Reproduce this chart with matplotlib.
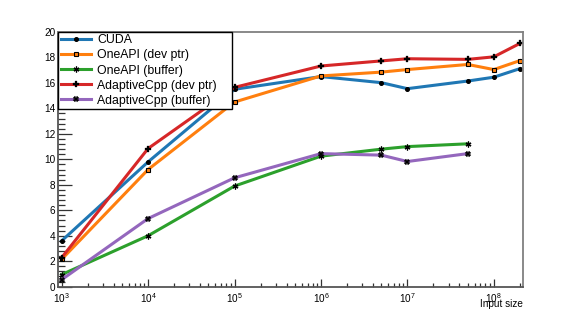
#!/usr/bin/env python3
"""Throughput vs input size for the CUDA / OneAPI / AdaptiveCpp backends."""

import matplotlib
matplotlib.use("Agg")
import matplotlib.pyplot as plt
from matplotlib.ticker import LogLocator, MultipleLocator

plt.rcParams["font.family"] = ["Liberation Sans", "DejaVu Sans"]
plt.rcParams["mathtext.fontset"] = "custom"
plt.rcParams["mathtext.rm"] = "Liberation Sans"
plt.rcParams["mathtext.it"] = "Liberation Sans"

# Input sizes (x)
sizes = [1e3, 1e4, 1e5, 1e6, 5e6, 1e7, 5e7, 1e8, 2e8]
sizes_buffer = sizes[:7]

# Series values
cuda = [3.6, 9.8, 15.5, 16.5, 16.02, 15.55, 16.15, 16.45, 17.12]
oneapi_ptr = [2.15, 9.2, 14.5, 16.55, 16.85, 17.05, 17.45, 17.05, 17.75]
oneapi_buf = [0.95, 4.0, 7.9, 10.25, 10.8, 11.0, 11.22]
acpp_ptr = [2.28, 10.85, 15.65, 17.33, 17.73, 17.9, 17.85, 18.05, 19.1]
acpp_buf = [0.55, 5.35, 8.55, 10.45, 10.33, 9.83, 10.45]

labels = [
    "CUDA",
    "OneAPI (dev ptr)",
    "OneAPI (buffer)",
    "AdaptiveCpp (dev ptr)",
    "AdaptiveCpp (buffer)",
]

fig = plt.figure(figsize=(5.81, 3.19), dpi=100)
ax = fig.add_axes([0.1003, 0.1013, 0.7994, 0.7984])

lw = 2.2
ax.plot(sizes, cuda, color="#1f77b4", lw=lw, marker="o", ms=2.6,
        mfc="black", mec="black", label=labels[0])
ax.plot(sizes, oneapi_ptr, color="#ff7f0e", lw=lw, marker="s", ms=3.3,
        mfc="#ff7f0e", mec="black", mew=0.8, label=labels[1])
ax.plot(sizes_buffer, oneapi_buf, color="#2ca02c", lw=lw, marker=(6, 2, 0), ms=4.2,
        mfc="black", mec="black", mew=0.9, label=labels[2])
ax.plot(sizes, acpp_ptr, color="#d62728", lw=lw, marker="P", ms=3.8,
        mfc="black", mec="black", mew=0.2, label=labels[3])
ax.plot(sizes_buffer, acpp_buf, color="#9467bd", lw=lw, marker="X", ms=3.8,
        mfc="black", mec="black", mew=0.2, label=labels[4])

ax.set_xscale("log")
ax.set_xlim(914, 2.16e8)
ax.set_ylim(0, 20)

ax.xaxis.set_major_locator(LogLocator(base=10, numticks=20))
ax.xaxis.set_minor_locator(LogLocator(base=10, subs=range(2, 10), numticks=50))
ax.yaxis.set_major_locator(MultipleLocator(2))
ax.yaxis.set_minor_locator(MultipleLocator(0.4))

ax.tick_params(axis="x", which="major", direction="in", length=5.6, width=0.9,
               labelsize=7.2, pad=3, top=False, color="#333333")
ax.tick_params(axis="x", which="minor", direction="in", length=2.8, width=0.9,
               top=False, color="#333333")
ax.tick_params(axis="y", which="major", direction="in", length=10, width=0.9,
               labelsize=7.2, pad=2, right=False, color="#333333")
ax.tick_params(axis="y", which="minor", direction="in", length=5, width=0.9,
               right=False, color="#333333")

for side in ("left", "bottom"):
    ax.spines[side].set_color("#555555")
    ax.spines[side].set_linewidth(1.3)
for side in ("top", "right"):
    ax.spines[side].set_color("#808080")
    ax.spines[side].set_linewidth(1.3)

ax.text(1.0, -0.068, "Input size", transform=ax.transAxes, ha="right",
        va="center", fontsize=7.2)

leg = ax.legend(
    loc="upper left",
    bbox_to_anchor=(0.0, 0.0, 0.374, 1.0),
    mode="expand",
    borderaxespad=0,
    fontsize=8.8,
    handlelength=2.5,
    handletextpad=0.5,
    labelspacing=0.25,
    borderpad=0.2,
    fancybox=False,
    framealpha=1,
    edgecolor="black",
)
leg.get_frame().set_linewidth(1.0)
leg.set_zorder(10)

fig.savefig("out.png", dpi=100, facecolor="white")
